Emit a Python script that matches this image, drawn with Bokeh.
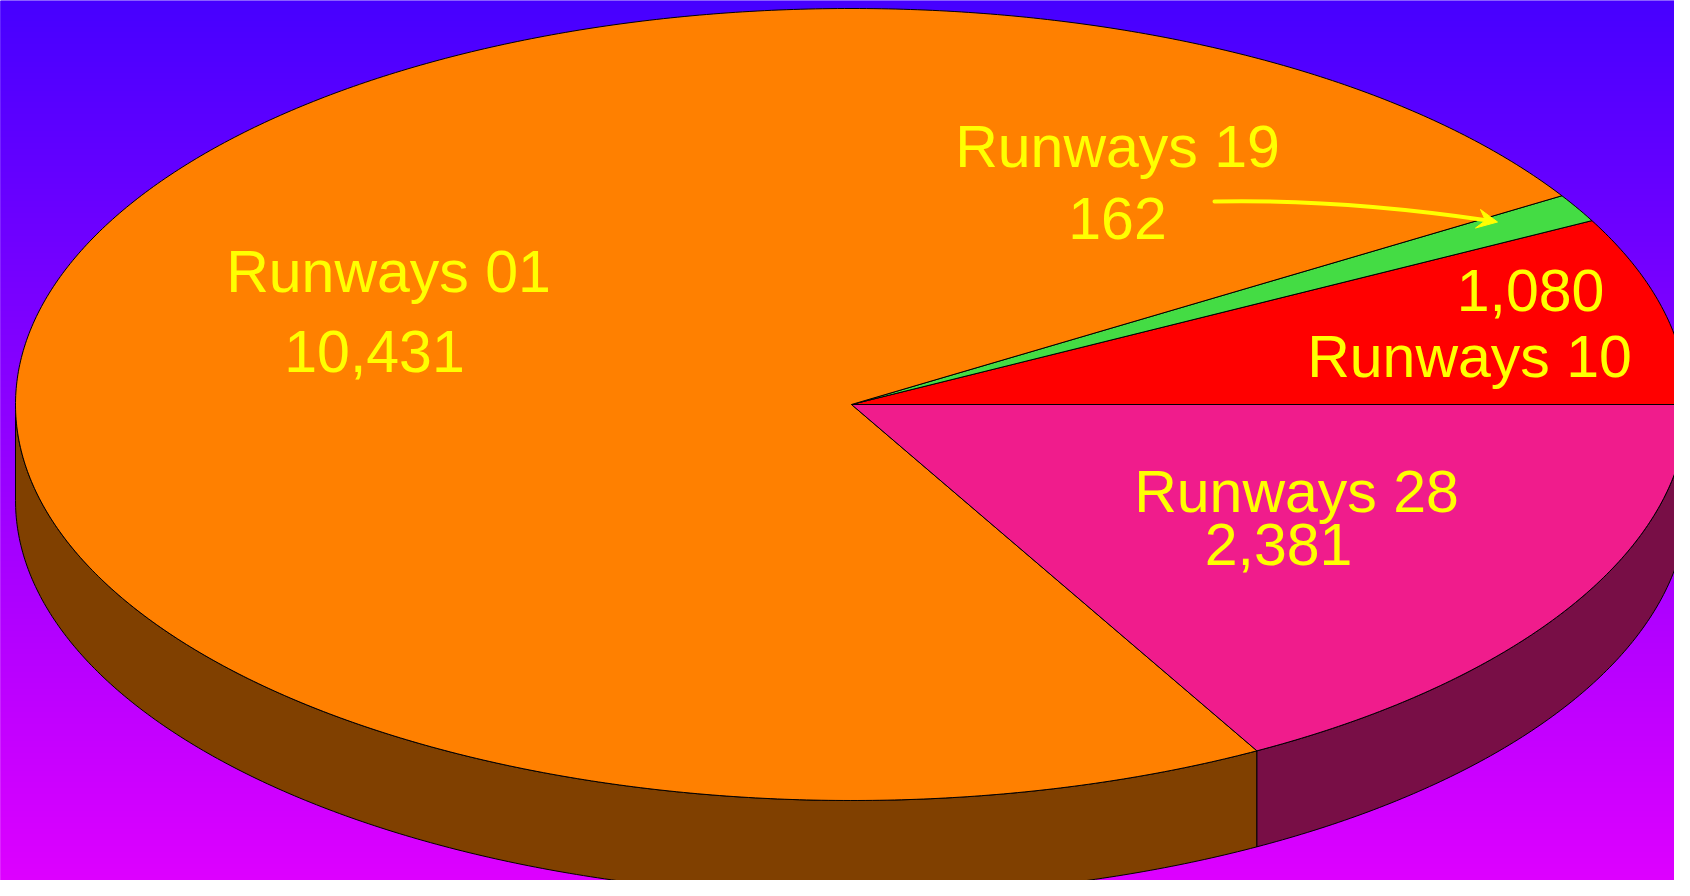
import numpy as np
from bokeh.plotting import figure
from bokeh.models import Range1d
from bokeh.core.properties import value
from bokeh.embed import file_html
from bokeh.resources import INLINE

# ---- data ----
categories = ["Runways 10", "Runways 19", "Runways 01", "Runways 28"]
counts = [1080, 162, 10431, 2381]
value_labels = ["1,080", "162", "10,431", "2,381"]

# ---- styles / layout ----
top_colors = ["#FF0000", "#44DC44", "#FF8000", "#F01C8C"]
side_colors = ["#800000", "#226E22", "#804000", "#780E46"]
CX, CY, RX, RY, DEPTH = 851.0, 404.0, 836.0, 396.0, 96.0
W, H = 1674, 880
FONT = value("Liberation Sans")
FSIZE = "59px"
TXT = "#FFFF00"
BASE_SHIFT = -22  # renderer places the baseline slightly low
# label anchor points (center x, baseline y) in pixel space
name_pos = {"Runways 10": (1469, 378), "Runways 19": (1117, 168),
            "Runways 01": (388, 293), "Runways 28": (1296, 513)}
val_pos = {"Runways 10": (1530, 312), "Runways 19": (1117, 240),
           "Runways 01": (374, 373), "Runways 28": (1278, 566)}

p = figure(width=W, height=H, x_range=Range1d(0, W), y_range=Range1d(H, 0),
           output_backend="svg", toolbar_location=None,
           x_axis_location=None, y_axis_location=None, min_border=0)
p.grid.visible = False
p.outline_line_color = None
p.background_fill_color = None
p.border_fill_color = "#8000FF"

# background gradient
ys = np.arange(0, 900)
rv = 70 + (224 - 70) * np.clip(ys / 895.0, 0, 1)
bg_colors = ["#%02x00ff" % int(round(v)) for v in rv]
p.quad(left=-10, right=1700, top=ys, bottom=ys + 1, color=bg_colors)


def ex(t):
    return CX + RX * np.cos(t)


def ey(t, dz=0.0):
    return CY - RY * np.sin(t) + dz


total = float(sum(counts))
fracs = np.array(counts) / total
ends = np.cumsum(fracs) * 2 * np.pi
starts = np.concatenate([[0.0], ends[:-1]])

# side walls (front half: angles pi..2pi)
for a0, a1, sc in zip(starts, ends, side_colors):
    s = max(a0, np.pi)
    e = min(a1, 2 * np.pi)
    if e <= s:
        continue
    t = np.linspace(s, e, max(int((e - s) / np.radians(0.5)), 2))
    xs = np.concatenate([ex(t), ex(t[::-1])])
    yv = np.concatenate([ey(t), ey(t[::-1], DEPTH)])
    p.patch(xs, yv, fill_color=sc, line_color="black", line_width=1)

# top faces
for a0, a1, tc in zip(starts, ends, top_colors):
    t = np.linspace(a0, a1, max(int((a1 - a0) / np.radians(0.5)), 2))
    xs = np.concatenate([[CX], ex(t)])
    yv = np.concatenate([[CY], ey(t)])
    p.patch(xs, yv, fill_color=tc, line_color="black", line_width=1)

# labels
nx = [name_pos[c][0] for c in categories]
ny = [name_pos[c][1] + BASE_SHIFT for c in categories]
vx = [val_pos[c][0] for c in categories]
vy = [val_pos[c][1] + BASE_SHIFT for c in categories]
p.text(x=nx, y=ny, text=categories, text_font=FONT, text_font_size=FSIZE,
       text_color=TXT, text_align="center", text_baseline="alphabetic")
p.text(x=vx, y=vy, text=value_labels, text_font=FONT, text_font_size=FSIZE,
       text_color=TXT, text_align="center", text_baseline="alphabetic")

# curved pointer arrow for the small slice
p.quadratic(x0=[1214], y0=[201], x1=[1484], y1=[219.5], cx=[1340], cy=[198.5],
            line_color=TXT, line_width=4, line_cap="round")
p.patch([1497, 1480, 1485, 1475], [221.5, 209, 220, 227.5],
        fill_color=TXT, line_color=TXT, line_width=1)

open("out.html", "w").write(file_html(p, INLINE))
